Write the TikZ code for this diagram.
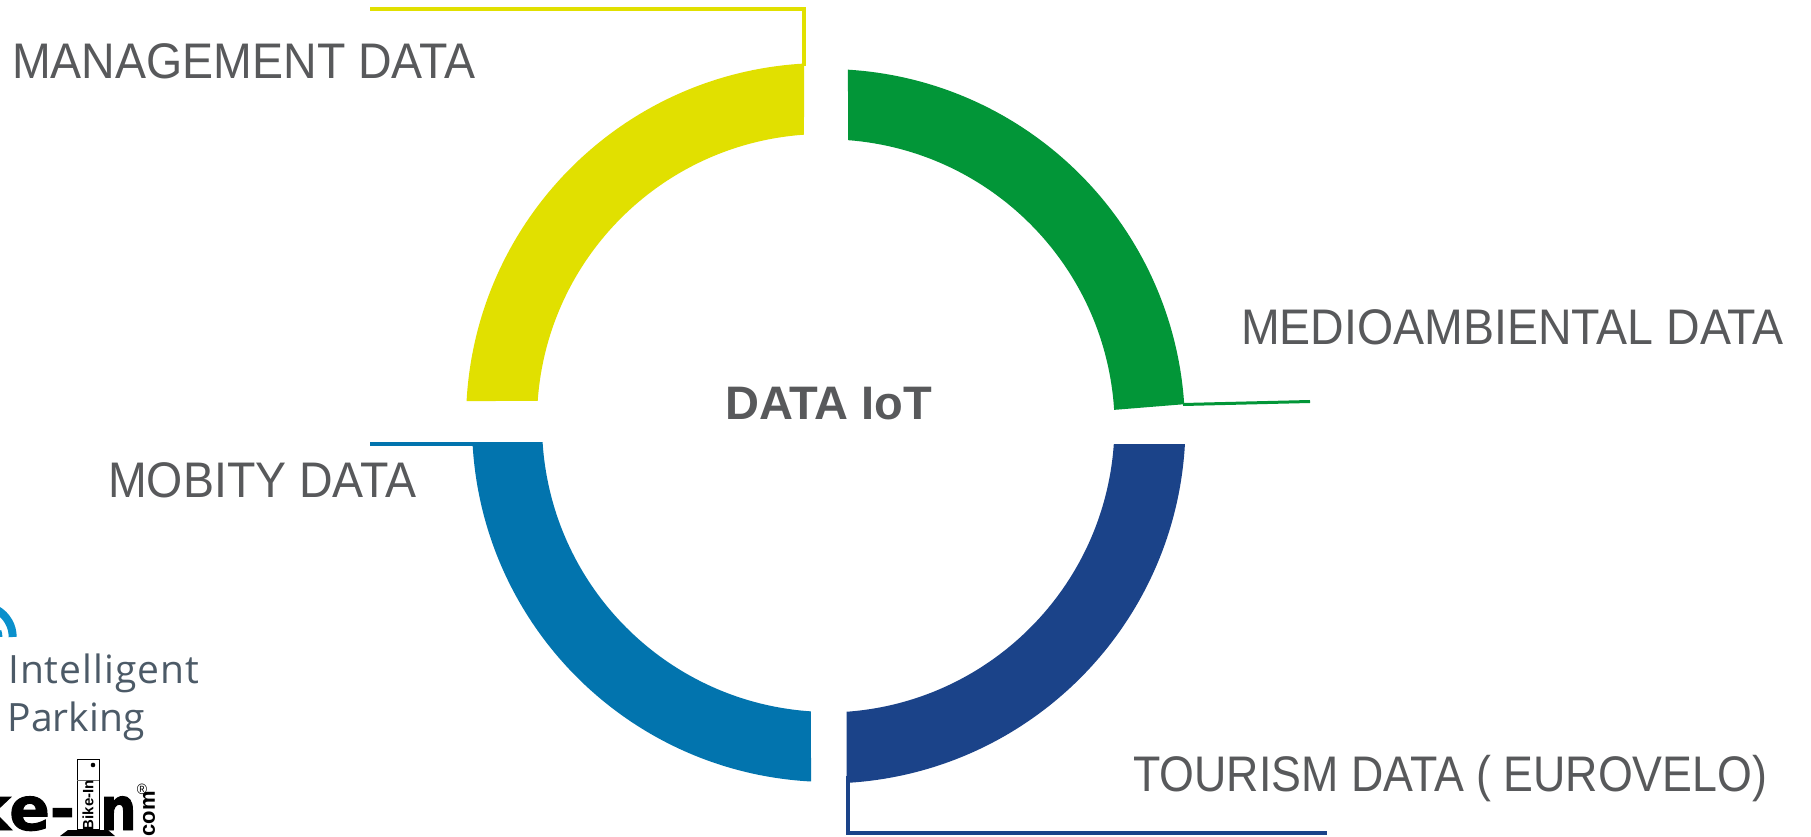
\documentclass[tikz,border=0pt]{standalone}
\usepackage{fontspec}
\setmainfont[FakeStretch=0.93]{Liberation Sans}
\newfontfamily\tourfont[FakeStretch=0.895]{Liberation Sans}
\newfontfamily\boldlab{Liberation Sans Bold}
\newfontfamily\logofont{Open Sans}
\newfontfamily\heavyfont[FakeBold=1.6]{DejaVu Sans Bold}
\newfontfamily\heavyn[FakeBold=1.6,FakeStretch=0.85]{DejaVu Sans Bold}
\definecolor{ylw}{HTML}{E1E000}
\definecolor{grn}{HTML}{029638}
\definecolor{nvy}{HTML}{1B4389}
\definecolor{blu}{HTML}{0274AE}
\definecolor{txt}{HTML}{58595B}
\definecolor{slate}{HTML}{4C5A67}
\definecolor{wifi}{HTML}{0A90CC}
\tikzset{
  lab/.style={text=txt,font=\fontsize{50}{50}\selectfont,inner sep=0pt,anchor=base west},
  lead/.style={line width=#1,line cap=butt,line join=miter},
  logotxt/.style={text=slate,font=\logofont\fontsize{39}{39}\selectfont,inner sep=0pt,anchor=base west},
  heavy/.style={inner sep=0pt,font=\heavyfont\fontsize{60}{60}\selectfont,text=black}
}
\begin{document}
\begin{tikzpicture}[x=1pt,y=1pt]
\useasboundingbox (0,0) rectangle (1811,836);
\fill[white] (0,0) rectangle (1811,836);
% ring segments
\fill[ylw] ([shift={(824,415)}]93.2:358) arc[start angle=93.2,end angle=176.8,radius=358]
  -- ([shift={(824,415)}]176:287) arc[start angle=176,end angle=94,radius=287] -- cycle;
\fill[grn] ([shift={(826,408)}]86.5:359) arc[start angle=86.5,end angle=3.8,radius=359]
  -- ([shift={(826,408)}]3.6:288.7) arc[start angle=3.6,end angle=85.6,radius=288.7] -- cycle;
\fill[nvy] ([shift={(826,412)}]-3.2:359.5) arc[start angle=-3.2,end angle=-86.7,radius=359.5]
  -- ([shift={(826,412)}]-85.9:288.5) arc[start angle=-85.9,end angle=-4,radius=288.5] -- cycle;
\fill[blu] ([shift={(830,412)}]182.9:358) arc[start angle=182.9,end angle=266.96,radius=358]
  -- ([shift={(830,412)}]266.2:288) arc[start angle=266.2,end angle=183.6,radius=288] -- cycle;
% leader lines
\coordinate (ya) at (370,827);
\coordinate (yb) at (804,827);
\coordinate (yc) at (804,770);
\draw[ylw,lead=3.5pt] (ya) -- (yb) -- (yc);
\coordinate (ga) at (1183,431.5);
\coordinate (gb) at (1310,434.5);
\draw[grn,lead=3pt] (ga) -- (gb);
\coordinate (ba) at (370,392);
\coordinate (bb) at (475,392);
\draw[blu,lead=4pt] (ba) -- (bb);
\coordinate (na) at (848,60);
\coordinate (nb) at (848,3);
\coordinate (nc) at (1327,3);
\draw[nvy,lead=3.5pt] (na) -- (nb) -- (nc);
% labels
\node[lab] (mgmt) at (12,757) {MANAGEMENT DATA};
\node[lab] (medio) at (1241,491) {MEDIOAMBIENTAL DATA};
\node[lab] (mob) at (108,338) {MOBITY DATA};
\node[lab,font=\tourfont\fontsize{50}{50}\selectfont] (tour) at (1133,45) {TOURISM DATA ( EUROVELO)};
\node[text=txt,font=\boldlab\fontsize{47}{47}\selectfont,inner sep=0pt,anchor=base west] (core) at (725,416) {DATA IoT};
% logo
\draw[wifi,line width=8pt] ([shift={(-18.6,199)}]60:31.3) arc[start angle=60,end angle=0,radius=31.3];
\draw[wifi,line width=6pt] ([shift={(-18.6,199)}]20:18) arc[start angle=20,end angle=0,radius=18];
\node[logotxt] (intel) at (8,153) {\addfontfeature{LetterSpace=2.5}Intelligent};
\node[logotxt] (park) at (7.5,105) {Parking};
\node[heavy,anchor=base east] (bk) at (75,6) {ke-};
\node[draw=black,line width=1pt,fill=white,minimum width=22pt,minimum height=70pt,inner sep=0pt,anchor=south west] (post) at (77,6) {};
\draw[black!60,line width=.7pt] (77,56) -- (99,56);
\fill[black] (93,71) circle (2.3);
\node[rotate=90,inner sep=0pt,font=\boldlab\fontsize{15}{15}\selectfont] (pl) at (88,31) {Bike-In};
\fill[black] (60,0) -- (68,6) -- (108,6) -- (115,0) -- cycle;
\node[inner sep=0pt,font=\heavyn\fontsize{60}{60}\selectfont,text=black,anchor=base west] (nn) at (100,6) {n};
\node[inner sep=0pt,font=\fontsize{15}{15}\selectfont] (reg) at (142,47) {®};
\node[rotate=90,inner sep=0pt,font=\boldlab\fontsize{22}{22}\selectfont] (com) at (149,22) {com};
\end{tikzpicture}
\end{document}
